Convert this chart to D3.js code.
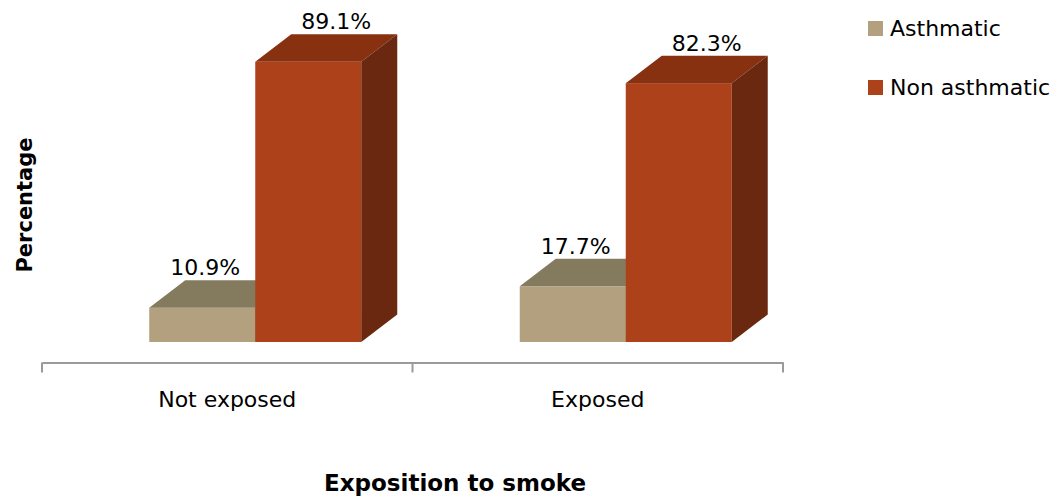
<!DOCTYPE html>
<html>
<head>
<meta charset="utf-8">
<script src="https://cdn.jsdelivr.net/npm/d3@7"></script>
<style>
  html, body { margin: 0; padding: 0; background: #fff; }
  svg { display: block; }
</style>
</head>
<body>
<svg id="chart" width="1060" height="498"></svg>
<script>
// Share of children by asthma status, grouped by exposure to smoke
const categories = ["Not exposed", "Exposed"];
const seriesNames = ["Asthmatic", "Non asthmatic"];
const asthmatic = [10.9, 17.7];
const nonAsthmatic = [89.1, 82.3];
const valueLabels = [["10.9%", "17.7%"], ["89.1%", "82.3%"]];

const series = [asthmatic, nonAsthmatic];

// face colours per series: front, top, side
const palette = [
  { front: "#B2A07E", top: "#847B5E", side: "#6E654C" },
  { front: "#AD4119", top: "#873111", side: "#6B2810" }
];

const svg = d3.select("#chart");
const FONT = "'DejaVu Sans', sans-serif";

const axisY = 362.5;      // floor line
const baseY = 342;        // front base of the bars
const depthX = 36, depthY = 27.5;

const x = d3.scaleBand().domain(categories).range([42, 783]);
const y = d3.scaleLinear().domain([0, 100]).range([baseY, 27.5]);
const barW = 106;
const barShift = 28;

// category axis
const axisG = svg.append("g").attr("transform", `translate(0,${axisY})`);
axisG.call(d3.axisBottom(x).tickSize(0).tickFormat(""));
axisG.select(".domain").attr("stroke", "#9a9a9a").attr("stroke-width", 2);
// ticks between categories
const bounds = [x.range()[0], ...categories.slice(1).map(c => x(c)), x.range()[1]];
axisG.selectAll("line.sep").data(bounds).enter().append("line")
  .attr("class", "sep")
  .attr("x1", d => d).attr("x2", d => d)
  .attr("y1", 0).attr("y2", 10)
  .attr("stroke", "#9a9a9a").attr("stroke-width", 2);

svg.selectAll("text.cat").data(categories).enter().append("text")
  .attr("class", "cat")
  .attr("x", d => x(d) + x.bandwidth() / 2)
  .attr("y", 407)
  .attr("text-anchor", "middle")
  .attr("font-family", FONT)
  .attr("font-size", 22)
  .attr("fill", "#000")
  .text(d => d);

// 3D bars
const labelOffset = [3, 28];
categories.forEach((cat, ci) => {
  series.forEach((vals, si) => {
    const x0 = x(cat) + x.bandwidth() / 2 - barW + barShift + si * barW;
    const x1 = x0 + barW;
    const yt = y(vals[ci]);
    const c = palette[si];
    const g = svg.append("g");
    g.append("rect")
      .attr("x", x0).attr("y", yt)
      .attr("width", barW).attr("height", baseY - yt)
      .attr("fill", c.front);
    g.append("polygon")
      .attr("points", [[x0, yt], [x0 + depthX, yt - depthY], [x1 + depthX, yt - depthY], [x1, yt]].map(p => p.join(",")).join(" "))
      .attr("fill", c.top);
    g.append("polygon")
      .attr("points", [[x1, yt], [x1 + depthX, yt - depthY], [x1 + depthX, baseY - depthY], [x1, baseY]].map(p => p.join(",")).join(" "))
      .attr("fill", c.side);
    g.append("text")
      .attr("x", (x0 + x1) / 2 + labelOffset[si])
      .attr("y", yt - depthY - 5)
      .attr("text-anchor", "middle")
      .attr("font-family", FONT)
      .attr("font-size", 22)
      .attr("fill", "#000")
      .text(valueLabels[si][ci]);
  });
});

// legend
const legend = svg.append("g");
seriesNames.forEach((name, i) => {
  const ly = 21 + i * 59;
  legend.append("rect")
    .attr("x", 868).attr("y", ly)
    .attr("width", 15).attr("height", 15)
    .attr("fill", palette[i].front);
  legend.append("text")
    .attr("x", 890).attr("y", ly + 15)
    .attr("font-family", FONT)
    .attr("font-size", 22)
    .attr("fill", "#000")
    .text(name);
});

// axis titles
svg.append("text")
  .attr("x", 455).attr("y", 491)
  .attr("text-anchor", "middle")
  .attr("font-family", FONT)
  .attr("font-weight", "bold")
  .attr("font-size", 23)
  .attr("fill", "#000")
  .text("Exposition to smoke");

svg.append("text")
  .attr("transform", "translate(32,205) rotate(-90)")
  .attr("text-anchor", "middle")
  .attr("font-family", FONT)
  .attr("font-weight", "bold")
  .attr("font-size", 21)
  .attr("fill", "#000")
  .text("Percentage");
</script>
</body>
</html>
